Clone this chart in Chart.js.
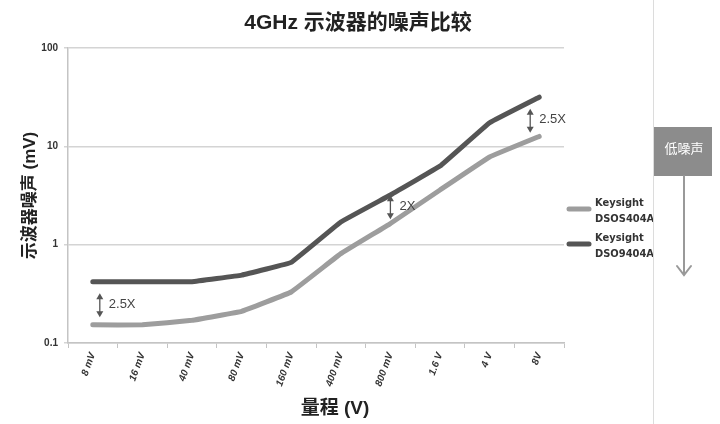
<!DOCTYPE html>
<html>
<head>
<meta charset="utf-8">
<script src="https://cdn.jsdelivr.net/npm/chart.js@4"></script>
<style>
  html, body { margin: 0; padding: 0; background: #fff; }
  #wrap { width: 720px; height: 424px; position: relative; }
</style>
</head>
<body>
<div id="wrap"><canvas id="noiseChart"></canvas></div>
<script>
const ranges = ['8 mV', '16 mV', '40 mV', '80 mV', '160 mV', '400 mV', '800 mV', '1.6 V', '4 V', '8V'];
const dsosNoise = [0.153, 0.153, 0.17, 0.21, 0.33, 0.81, 1.64, 3.6, 7.8, 12.6];
const dso9Noise = [0.42, 0.42, 0.42, 0.49, 0.66, 1.7, 3.2, 6.3, 17.4, 31.6];
const seriesLabels = ['Keysight\nDSOS404A', 'Keysight\nDSO9404A'];
const yTicks = [0.1, 1, 10, 100];
// arrows between the two lines: category index, text
const ratioMarks = [
    { index: 0, dx: 7, dy: 2, text: '2.5X' },
    { index: 6, dx: 0, dy: -2, text: '2X' },
    { index: 9, dx: -9, dy: 4, text: '2.5X' }
];

const CJK = "'Liberation Sans', 'Noto Sans CJK SC', sans-serif";

function drawArrow(ctx, x, y1, y2) {
    ctx.save();
    ctx.strokeStyle = '#555';
    ctx.fillStyle = '#555';
    ctx.lineWidth = 1.3;
    ctx.beginPath();
    ctx.moveTo(x, y1 + 4);
    ctx.lineTo(x, y2 - 4);
    ctx.stroke();
    ctx.beginPath();
    ctx.moveTo(x, y1);
    ctx.lineTo(x - 3.5, y1 + 6);
    ctx.lineTo(x + 3.5, y1 + 6);
    ctx.closePath();
    ctx.fill();
    ctx.beginPath();
    ctx.moveTo(x, y2);
    ctx.lineTo(x - 3.5, y2 - 6);
    ctx.lineTo(x + 3.5, y2 - 6);
    ctx.closePath();
    ctx.fill();
    ctx.restore();
}

const extras = {
    id: 'extras',
    beforeDraw(chart) {
        const ctx = chart.ctx;
        ctx.save();
        ctx.fillStyle = '#fff';
        ctx.fillRect(0, 0, chart.width, chart.height);
        ctx.restore();
    },
    afterDraw(chart) {
        const ctx = chart.ctx;
        const x = chart.scales.x;
        const y = chart.scales.y;
        const area = chart.chartArea;
        ctx.save();

        // title
        ctx.fillStyle = '#222';
        ctx.font = "bold 21px " + CJK;
        ctx.textAlign = 'center';
        ctx.textBaseline = 'middle';
        ctx.fillText('4GHz 示波器的噪声比较', 358, 23);

        // x axis title
        ctx.font = "bold 19px " + CJK;
        ctx.fillText('量程 (V)', 335, 409);

        // ratio arrows
        ratioMarks.forEach(m => {
            const px = x.getPixelForValue(m.index) + m.dx;
            const yTop = y.getPixelForValue(dso9Noise[m.index]);
            const yBot = y.getPixelForValue(dsosNoise[m.index]);
            const mid = (yTop + yBot) / 2 + m.dy;
            drawArrow(ctx, px, mid - 12, mid + 12);
            ctx.fillStyle = '#444';
            ctx.font = "13px 'Liberation Sans', sans-serif";
            ctx.textAlign = 'left';
            ctx.textBaseline = 'middle';
            ctx.fillText(m.text, px + 9, mid - 1);
        });

        // legend
        chart.data.datasets.forEach((ds, i) => {
            const ly = 209 + i * 35;
            ctx.strokeStyle = ds.borderColor;
            ctx.lineWidth = 5;
            ctx.lineCap = 'round';
            ctx.beginPath();
            ctx.moveTo(area.right + 5, ly);
            ctx.lineTo(area.right + 25, ly);
            ctx.stroke();
            ctx.fillStyle = '#333';
            ctx.font = "bold 11px 'DejaVu Sans Condensed', 'Liberation Sans', sans-serif";
            ctx.textAlign = 'left';
            ctx.textBaseline = 'middle';
            ds.label.split('\n').forEach((line, j) => {
                ctx.fillText(line, area.right + 31, ly - 6 + j * 16);
            });
        });

        // right side panel
        ctx.strokeStyle = '#dcdcdc';
        ctx.lineWidth = 1;
        ctx.beginPath();
        ctx.moveTo(653.5, 0);
        ctx.lineTo(653.5, chart.height);
        ctx.stroke();

        ctx.fillStyle = '#8c8c8c';
        ctx.fillRect(654, 127, 58, 49);
        ctx.fillStyle = '#fff';
        ctx.font = "13px 'Noto Sans CJK SC', sans-serif";
        ctx.textAlign = 'center';
        ctx.fillText('低噪声', 684, 148);

        ctx.strokeStyle = '#999';
        ctx.lineWidth = 2;
        ctx.beginPath();
        ctx.moveTo(684, 176);
        ctx.lineTo(684, 274);
        ctx.stroke();
        ctx.beginPath();
        ctx.moveTo(677, 266);
        ctx.lineTo(684, 275);
        ctx.lineTo(691, 266);
        ctx.stroke();

        ctx.restore();
    }
};

const ctx = document.getElementById('noiseChart').getContext('2d');
new Chart(ctx, {
    type: 'line',
    data: {
        labels: ranges,
        datasets: [{
            label: seriesLabels[0],
            data: dsosNoise,
            borderColor: '#9d9d9d',
            borderWidth: 5,
            pointRadius: 0,
            tension: 0.05,
            borderCapStyle: 'round',
            borderJoinStyle: 'round'
        }, {
            label: seriesLabels[1],
            data: dso9Noise,
            borderColor: '#555555',
            borderWidth: 5,
            pointRadius: 0,
            tension: 0.05,
            borderCapStyle: 'round',
            borderJoinStyle: 'round'
        }]
    },
    options: {
        responsive: true,
        maintainAspectRatio: false,
        animation: false,
        layout: {
            padding: { top: 48, right: 156, left: 0, bottom: 0 }
        },
        plugins: {
            legend: { display: false },
            title: { display: false },
            tooltip: { enabled: false }
        },
        scales: {
            x: {
                offset: true,
                afterFit(scale) { scale.height = 81; },
                border: { color: '#c4c4c4', width: 1.5 },
                grid: {
                    offset: true,
                    drawOnChartArea: false,
                    color: '#c4c4c4',
                    tickLength: 5
                },
                ticks: {
                    autoSkip: false,
                    minRotation: 70,
                    maxRotation: 70,
                    padding: 3,
                    color: '#333',
                    font: { family: "'Liberation Sans', sans-serif", size: 10, style: 'italic', weight: '600' }
                }
            },
            y: {
                type: 'logarithmic',
                min: 0.1,
                max: 100,
                afterFit(scale) { scale.width = 68; },
                afterBuildTicks(scale) {
                    scale.ticks = yTicks.map(v => ({ value: v }));
                },
                border: { color: '#c4c4c4', width: 1.5 },
                grid: {
                    color: '#d4d4d4',
                    lineWidth: 1.5,
                    tickLength: 4
                },
                ticks: {
                    padding: 6,
                    color: '#333',
                    font: { family: "'Liberation Sans', sans-serif", size: 10, weight: 'bold' },
                    callback: v => String(v)
                },
                title: {
                    display: true,
                    text: '示波器噪声 (mV)',
                    color: '#222',
                    padding: { top: 20, bottom: 4 },
                    font: { family: CJK, size: 17, weight: 'bold' }
                }
            }
        }
    },
    plugins: [extras]
});
</script>
</body>
</html>
